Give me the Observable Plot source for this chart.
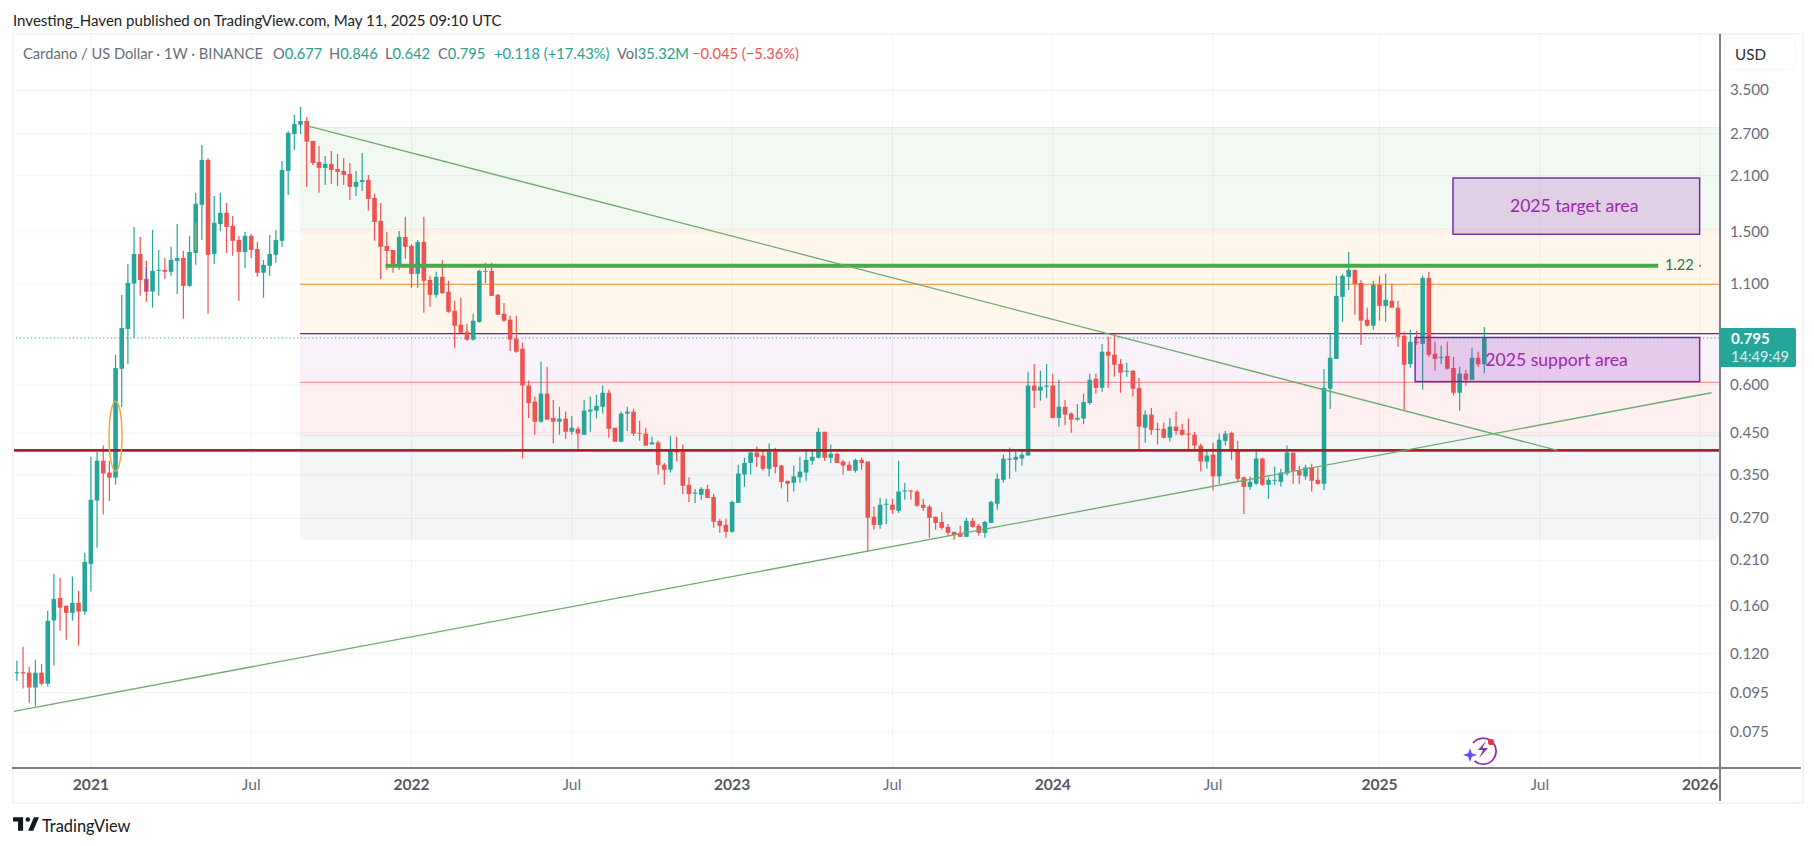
<!DOCTYPE html>
<html><head><meta charset="utf-8">
<script src="https://cdn.jsdelivr.net/npm/d3@7"></script>
<script src="https://cdn.jsdelivr.net/npm/@observablehq/plot@0.6"></script>
<style>
html,body{margin:0;padding:0;background:#fff;overflow:hidden;width:1814px;height:846px;font-family:Lato,"Noto Sans",sans-serif}
#head{height:34px;position:relative;font-size:15.05px;color:#222}
#head span{position:absolute;left:13px;top:11px;white-space:nowrap}
#chart{position:relative;height:767px;width:1814px}
#chart svg.plot{display:block;position:absolute;left:0;top:0}
.abs{position:absolute;white-space:nowrap}
.leg{position:absolute;top:9px;font-size:14.7px;color:#6a6d78;white-space:nowrap;line-height:20px}
.up{color:#2aa08f}.dn{color:#ef5350}
#foot{position:relative;height:45px}
</style></head><body>
<div id="head"><span>Investing_Haven published on TradingView.com, May 11, 2025 09:10 UTC</span></div>
<div id="chart"></div>
<div id="foot">
<svg class="abs" style="left:13px;top:16px" width="26" height="14" viewBox="0 0 36 19"><path fill="#131722" d="M14 0H0v6h7v13h7V0ZM28 19h-7L29 0h7l-8 19Z"/><circle fill="#131722" cx="20.5" cy="3.2" r="3.2"/></svg>
<span class="abs" style="left:42px;top:15px;font-size:16.4px;color:#131722">TradingView</span>
</div>
<script>
const firstWeek = "2020-10-12";
const opens = [
.1064,.1071,.1068,.0977,.1068,.0999,.1460,.1672,.1594,.1528,
.1622,.1540,.2049,.2994,.380,.354,.3434,.659,.8365,1.098,
1.311,1.129,1.047,1.185,1.192,1.178,1.258,1.280,1.083,1.319,
1.759,2.302,1.311,1.569,1.677,1.551,1.426,1.327,1.461,1.351,
1.171,1.221,1.304,1.418,2.156,2.690,2.843,2.907,2.580,2.275,
2.195,2.248,2.182,2.156,2.117,1.959,2.018,2.042,1.834,1.598,
1.376,1.343,1.228,1.452,1.376,1.164,1.409,1.122,1.026,1.143,
1.045,.933,.858,.823,.785,.873,1.178,1.185,1.026,.916,
.884,.789,.743,.596,.541,.480,.568,.491,.480,.489,
.452,.460,.444,.510,.513,.525,.571,.463,.426,.504,
.510,.449,.447,.419,.424,.371,.360,.406,.401,.329,
.312,.310,.321,.306,.2651,.2589,.2482,.2952,.350,.375,
.399,.392,.362,.401,.369,.337,.333,.344,.354,.380,
.387,.452,.387,.396,.378,.371,.358,.382,.378,.2716,
.2588,.2919,.2919,.2815,.316,.318,.316,.2919,.2884,.2716,
.2635,.2558,.2482,.2467,.2410,.2651,.2573,.2467,.2619,.2936,
.339,.382,.382,.385,.392,.596,.578,.592,.596,.491,
.525,.504,.486,.489,.537,.621,.588,.730,.717,.678,
.647,.651,.588,.463,.501,.460,.460,.436,.466,.457,
.447,.444,.416,.378,.394,.346,.428,.449,.406,.344,
.325,.331,.385,.329,.337,.335,.352,.399,.358,.346,
.365,.339,.331,.585,.699,1.014,1.143,1.192,1.102,.884,
.853,1.089,.961,.990,.950,.803,.678,.775,.765,1.136,
.721,.704,.712,.662,.571,.640,.617,.704,.677];
const highs = [
.1147,.1247,.1107,.1154,.1126,.1547,.1930,.1884,.1594,.1899,
.1743,.2189,.389,.4006,.416,.380,.7166,1.026,1.235,1.541,
1.452,1.258,1.514,1.343,1.280,1.368,1.569,1.335,1.461,1.890,
2.519,2.330,1.856,1.890,1.780,1.647,1.461,1.496,1.478,1.409,
1.265,1.469,1.514,2.289,2.738,3.014,3.162,2.978,2.580,2.504,
2.358,2.430,2.387,2.330,2.261,2.156,2.401,2.105,1.879,1.780,
1.496,1.343,1.505,1.637,1.392,1.426,1.637,1.150,1.178,1.265,
1.116,.990,1.008,.863,.916,1.192,1.243,1.243,1.032,.978,
.905,.905,.771,.614,.558,.687,.667,.547,.525,.510,
.497,.466,.547,.558,.564,.596,.581,.463,.510,.525,
.519,.483,.463,.439,.428,.375,.441,.439,.419,.344,
.321,.324,.329,.312,.2683,.2683,.2988,.371,.387,.401,
.414,.406,.421,.411,.371,.337,.369,.389,.404,.406,
.463,.452,.419,.399,.382,.378,.385,.387,.378,.2887,
.304,.3024,.3024,.380,.333,.319,.319,.3024,.2919,.2716,
.2798,.2603,.2482,.2573,.2700,.2700,.2603,.2651,.2988,.352,
.394,.411,.401,.404,.647,.678,.651,.678,.640,.617,
.547,.507,.534,.568,.640,.640,.765,.799,.813,.699,
.683,.655,.624,.513,.521,.477,.477,.491,.510,.474,
.489,.452,.421,.404,.424,.447,.454,.452,.428,.346,
.346,.401,.387,.344,.367,.362,.416,.399,.369,.371,
.373,.365,.658,.813,1.150,1.164,1.327,1.192,1.122,.950,
1.116,1.150,1.164,1.096,.990,.823,.832,.828,1.150,1.178,
.775,.756,.775,.708,.667,.655,.747,.730,.846];
const lows = [
.1018,.0971,.0893,.0872,.0989,.0982,.1114,.1373,.1300,.1457,
.1255,.1511,.1736,.2257,.2753,.2986,.329,.5246,.678,.792,
1.020,.984,.950,1.020,1.129,1.150,1.032,.889,1.076,1.228,
1.426,.916,1.235,1.505,1.319,1.296,.990,1.206,1.280,1.143,
1.008,1.150,1.243,1.368,1.867,2.444,2.690,1.959,2.234,1.890,
1.982,1.994,1.970,1.982,1.812,1.856,1.912,1.697,1.418,1.129,
1.192,1.171,1.192,1.273,1.070,1.070,.922,.955,1.008,1.032,
.922,.748,.818,.780,.780,.868,1.102,1.020,.911,.873,
.733,.725,.385,.491,.444,.477,.486,.421,.444,.433,
.444,.408,.444,.452,.489,.504,.436,.426,.424,.454,
.441,.428,.416,.419,.350,.329,.354,.378,.311,.297,
.2952,.3006,.304,.2543,.2467,.2395,.2467,.2952,.325,.350,
.366,.358,.346,.352,.322,.2970,.316,.333,.337,.371,
.385,.380,.375,.375,.350,.358,.354,.360,.2202,.2512,
.2527,.2603,.2764,.2781,.3006,.3006,.2884,.2815,.2395,.2512,
.2512,.2425,.2366,.2410,.2410,.2543,.2425,.2395,.2619,.2832,
.333,.341,.356,.369,.392,.521,.544,.553,.489,.466,
.471,.449,.483,.474,.531,.568,.574,.588,.628,.571,
.628,.558,.404,.424,.444,.419,.434,.426,.444,.441,
.406,.401,.356,.362,.318,.331,.416,.382,.335,.2764,
.319,.329,.327,.3024,.329,.325,.348,.331,.331,.339,
.316,.329,.319,.518,.699,.873,1.057,.911,.760,.848,
.832,.879,.873,.950,.752,.516,.663,.761,.581,.708,
.651,.678,.655,.561,.513,.596,.617,.667,.642];
const closes = [
.1071,.1063,.0977,.1068,.0999,.1457,.1662,.1576,.1528,.1622,
.1540,.2074,.3006,.380,.352,.3434,.662,.8415,1.102,1.311,
1.122,1.045,1.185,1.192,1.178,1.265,1.280,1.083,1.327,1.770,
2.302,1.304,1.579,1.677,1.541,1.418,1.327,1.461,1.343,1.171,
1.228,1.311,1.426,2.168,2.706,2.855,2.907,2.569,2.261,2.195,
2.248,2.168,2.143,2.105,1.959,2.018,2.042,1.823,1.588,1.368,
1.335,1.235,1.452,1.368,1.164,1.409,1.116,1.026,1.143,1.038,
.927,.853,.818,.785,.879,1.185,1.185,1.020,.911,.879,
.785,.730,.596,.537,.480,.568,.486,.480,.489,.452,
.463,.447,.513,.516,.528,.571,.460,.426,.504,.510,
.447,.447,.416,.424,.370,.360,.406,.399,.327,.311,
.314,.321,.304,.2635,.2573,.2482,.2970,.352,.375,.399,
.389,.362,.401,.366,.335,.331,.346,.356,.382,.389,
.452,.387,.396,.375,.369,.358,.382,.375,.2700,.2588,
.2919,.2936,.2832,.316,.318,.316,.2902,.2866,.2700,.2619,
.2543,.2467,.2437,.2410,.2651,.2558,.2467,.2635,.2970,.341,
.385,.385,.389,.394,.596,.578,.592,.596,.491,.525,
.501,.486,.491,.540,.617,.588,.730,.713,.675,.644,
.651,.585,.466,.501,.457,.457,.436,.466,.454,.444,
.444,.416,.378,.392,.346,.431,.447,.406,.341,.325,
.335,.385,.329,.339,.339,.354,.399,.358,.348,.365,
.337,.331,.588,.704,1.020,1.150,1.192,1.096,.879,.853,
1.089,.961,.996,.950,.798,.675,.775,.770,1.136,.717,
.699,.708,.659,.571,.640,.617,.704,.677,.795];

const yTicks = [3.5,2.7,2.1,1.5,1.1,0.6,0.45,0.35,0.27,0.21,0.16,0.12,0.095,0.075];
const yearTicks = ["2021-01-04","2022-01-03","2023-01-02","2024-01-01","2025-01-06","2026-01-05"];
const monthTicks = ["2021-07-05","2022-07-04","2023-07-03","2024-07-01","2025-07-07"];

const bandStart = "2021-08-30", xStart = "2020-10-07", xEnd = "2026-01-27";
const bandNames = ["green","orange","orange2","purple","red","gray"];
const bandTops = [2.80,1.523,1.096,0.816,0.609,0.443];
const bandBottoms = [1.523,1.096,0.816,0.609,0.443,0.2366];
const bandFills = ["#4caf50","#ff9800","#ff9800","#9c27b0","#f23645","#787b86"];
const bandAlphas = [0.07,0.075,0.075,0.06,0.075,0.08];
const levelPrices = [2.80,1.523,0.443,1.096,0.816,0.609];
const levelColors = ["#e6e8e6","#fbe6d4","#e6e6e6","#f5a45a","#6a1fa0","#ef9a9a"];

const supportLevel = 0.4055, lastClose = 0.795, resistance = 1.225;
const down = {from:"2021-09-08",to:"2025-07-27",p1:2.826,p2:0.4055};
const rise = {from:"2020-10-07",to:"2026-01-18",p1:0.0848,p2:0.5726};
const boxes = [
 {name:"2025 target area",from:"2025-03-31",to:"2026-01-05",top:2.066,bottom:1.475,labelDate:"2025-08-15",labelPrice:1.745},
 {name:"2025 support area",from:"2025-02-16",to:"2026-01-05",top:0.795,bottom:0.6103,labelDate:"2025-07-26",labelPrice:0.696}
];
const strips = [
 {date:"2021-05-03",from:1.579,to:1.343,color:"#c9a23a"},
 {date:"2021-03-08",from:1.210,to:1.050,color:"#7b4fa8"}
];

const D = s => new Date(s + "T00:00:00Z");
const start = D(firstWeek);
const candles = opens.map((o,i)=>({date:d3.utcDay.offset(start,7*i),open:o,high:highs[i],low:lows[i],close:closes[i]}));
const up = candles.filter(d=>d.close>=d.open), dn = candles.filter(d=>d.close<d.open);
const bands = bandNames.map((n,i)=>({n,top:bandTops[i],bottom:bandBottoms[i],fill:bandFills[i],a:bandAlphas[i]}));
const teal="#26a69a", red="#ef5350";
const ellipseSymbol = {draw(c){const rx=6.5,ry=35,k=0.5523;
  c.moveTo(-rx,0);c.bezierCurveTo(-rx,-ry*k,-rx*k,-ry,0,-ry);c.bezierCurveTo(rx*k,-ry,rx,-ry*k,rx,0);
  c.bezierCurveTo(rx,ry*k,rx*k,ry,0,ry);c.bezierCurveTo(-rx*k,ry,-rx,ry*k,-rx,0);c.closePath();}};

const chart = Plot.plot({
  width:1814,height:767,marginLeft:12,marginRight:95,marginTop:0,marginBottom:34,
  style:{background:"transparent",fontFamily:"Lato, 'Noto Sans', sans-serif"},
  x:{type:"utc",domain:[D(xStart),D(xEnd)],label:null},
  y:{type:"log",domain:[0.0607,4.894],label:null},
  marks:[
    Plot.gridY(yTicks,{stroke:"#f1f3f6",strokeOpacity:1,strokeWidth:1}),
    Plot.gridX([...yearTicks,...monthTicks].map(D),{stroke:"#f1f3f6",strokeOpacity:1,strokeWidth:1}),
    Plot.rect(bands,{x1:()=>D(bandStart),x2:()=>D(xEnd),y1:"top",y2:"bottom",fill:"fill",fillOpacity:"a"}),
    Plot.ruleY(levelPrices.slice(0,3),{x1:()=>D(bandStart),x2:()=>D(xEnd),stroke:(d,i)=>levelColors[i],strokeWidth:1}),
    Plot.ruleY(levelPrices.slice(3),{x1:()=>D(bandStart),x2:()=>D(xEnd),stroke:(d,i)=>levelColors[i+3],strokeWidth:1.2}),
    Plot.ruleY([lastClose],{stroke:teal,strokeWidth:1,strokeDasharray:"1.2,2.6"}),
    Plot.ruleX(up,{x:"date",y1:"low",y2:"high",stroke:teal,strokeWidth:1.2}),
    Plot.ruleX(dn,{x:"date",y1:"low",y2:"high",stroke:red,strokeWidth:1.2}),
    Plot.ruleX(up,{x:"date",y1:"open",y2:"close",stroke:teal,strokeWidth:4.6}),
    Plot.ruleX(dn,{x:"date",y1:"open",y2:"close",stroke:red,strokeWidth:4.6}),
    Plot.ruleX(strips,{x:d=>D(d.date),y1:"from",y2:"to",stroke:"color",strokeWidth:1.5}),
    Plot.ruleY([supportLevel],{stroke:"#a82424",strokeWidth:2.6}),
    Plot.ruleY([resistance],{x1:()=>D("2021-12-05"),x2:()=>D("2025-11-19"),stroke:"#4aa84e",strokeWidth:3.8}),
    Plot.link([down,rise],{x1:d=>D(d.from),x2:d=>D(d.to),y1:"p1",y2:"p2",stroke:"#6fab6f",strokeWidth:1.3}),
    Plot.dot([0.4416],{x:()=>D("2021-02-01"),y:d=>d,symbol:ellipseSymbol,stroke:"#f2ab3c",strokeWidth:1.5,fill:"none"}),
    Plot.rect(boxes,{x1:d=>D(d.from),x2:d=>D(d.to),y1:"top",y2:"bottom",fill:"#9c27b0",fillOpacity:0.2,stroke:"#6a27a8",strokeWidth:1.4}),
    Plot.text(boxes,{x:d=>D(d.labelDate),y:"labelPrice",text:"name",fill:"#9c27b0",fontSize:17.6,lineAnchor:"middle"}),
    Plot.text(["1.22"],{x:()=>D("2025-11-26"),y:()=>resistance,text:d=>d,textAnchor:"start",fill:"#237a3c",fontSize:14.6}),
    Plot.dot([resistance],{x:()=>D("2026-01-05"),y:d=>d,r:0.9,fill:"#237a3c"}),
    Plot.axisY(yTicks,{anchor:"right",tickSize:0,tickPadding:10.5,tickFormat:".3f",fill:"#6a6d78",fontSize:15.2,label:null}),
    Plot.axisX(yearTicks.map(D),{anchor:"bottom",tickSize:0,tickPadding:11,tickFormat:d=>String(d.getUTCFullYear()),fill:"#555862",fontSize:15.6,fontWeight:700,label:null}),
    Plot.axisX(monthTicks.map(D),{anchor:"bottom",tickSize:0,tickPadding:11,tickFormat:()=>"Jul",fill:"#6a6d78",fontSize:15.6,label:null})
  ]
});
const host=document.getElementById("chart");
host.appendChild(chart);
const overlay=`
<div class="abs" style="left:12px;top:-1px;width:1788px;height:767px;border:2px solid #f2f4f8;box-sizing:content-box;pointer-events:none"></div>
<div class="abs" style="left:1719px;top:0;width:1.5px;height:767px;background:#7d7f86"></div>
<div class="abs" style="left:12px;top:733px;width:1789px;height:1.5px;background:#7d7f86"></div>
<div class="abs" style="left:1724px;top:4px;width:72px;height:32px;border:1.5px solid #f4f5f7;border-radius:6px;box-sizing:border-box"></div>
<div class="abs" style="left:1735px;top:11px;font-size:15.2px;color:#2a2e39">USD</div>
<div class="abs" style="left:1719.5px;top:294px;width:76px;height:39px;background:#26a69a;border-radius:0 2px 2px 0"></div>
<div class="abs" style="left:1731px;top:295px;font-size:15.2px;font-weight:700;color:#fff">0.795</div>
<div class="abs" style="left:1731px;top:314px;font-size:14.6px;color:#d6f0ec">14:49:49</div>
<span class="leg" style="left:23px">Cardano / US Dollar · 1W · BINANCE</span>
<span class="leg" style="left:273px">O<span class="up">0.677</span></span>
<span class="leg" style="left:329px">H<span class="up">0.846</span></span>
<span class="leg" style="left:385px">L<span class="up">0.642</span></span>
<span class="leg" style="left:438px">C<span class="up">0.795</span></span>
<span class="leg up" style="left:494px">+0.118 (+17.43%)</span>
<span class="leg" style="left:617px">Vol<span class="up">35.32M</span></span>
<span class="leg dn" style="left:692px">−0.045 (−5.36%)</span>
<svg class="abs" style="left:1462px;top:700px" width="36" height="32" viewBox="0 0 36 32">
<path d="M11 9 A13 13 0 1 1 12.5 27" fill="none" stroke="#8e2fb0" stroke-width="1.7"/>
<path d="M24 7 L16 16 L21 16 L17 24 L26 14 L20.5 14 Z" fill="#8e2fb0"/>
<path d="M8 14 L9.8 19.2 L15 21 L9.8 22.8 L8 28 L6.2 22.8 L1 21 L6.2 19.2 Z" fill="#6a4cf0"/>
<circle cx="29" cy="8" r="3.1" fill="#ef3340"/></svg>`;
host.insertAdjacentHTML("beforeend",overlay);
</script>
</body></html>
